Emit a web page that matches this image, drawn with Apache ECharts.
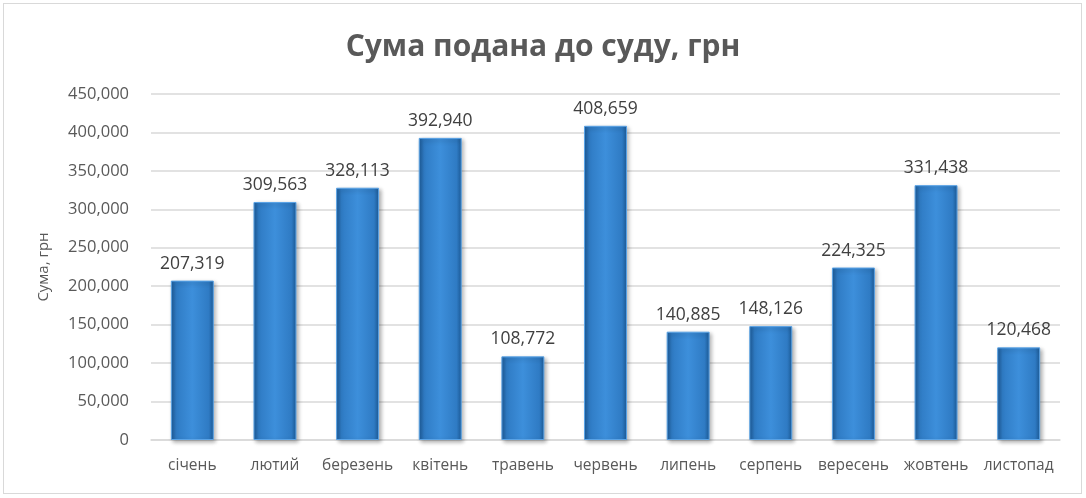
<!DOCTYPE html>
<html>
<head>
<meta charset="utf-8">
<script src="https://cdn.jsdelivr.net/npm/echarts@6/dist/echarts.min.js"></script>
<style>
  html, body { margin: 0; padding: 0; background: #fff; }
  #frame { position: absolute; left: 3px; top: 3px; width: 1077px; height: 489px; border: 1px solid #d9d9d9; }
  #chart { width: 1086px; height: 498px; }
</style>
</head>
<body>
<div id="frame"></div>
<div id="chart"></div>
<script>
var months = ['січень', 'лютий', 'березень', 'квітень', 'травень', 'червень', 'липень', 'серпень', 'вересень', 'жовтень', 'листопад'];
var sums = [207319, 309563, 328113, 392940, 108772, 408659, 140885, 148126, 224325, 331438, 120468];
var yTicks = [0, 50000, 100000, 150000, 200000, 250000, 300000, 350000, 400000, 450000];

var fmt = function (v) {
    return String(v).replace(/\B(?=(\d{3})+(?!\d))/g, ',');
};

var init_barChart = function () {
    var myChart = echarts.init(document.getElementById('chart'));
    var option = {
        animation: false,
        title: {
            text: 'Сума подана до суду, грн',
            left: 'center',
            top: 27,
            textStyle: { fontFamily: 'Open Sans', fontSize: 30, fontWeight: 'bold', color: '#595959' }
        },
        grid: { left: 151, right: 26, top: 94, bottom: 58 },
        xAxis: {
            type: 'category',
            data: months,
            axisTick: { show: false },
            axisLine: { lineStyle: { color: '#d9d9d9', width: 1.5 } },
            axisLabel: { interval: 0, fontFamily: 'Open Sans', fontSize: 15.5, color: '#595959', margin: 18 }
        },
        yAxis: {
            type: 'value',
            min: yTicks[0],
            max: yTicks[yTicks.length - 1],
            interval: yTicks[1] - yTicks[0],
            name: 'Сума, грн',
            nameLocation: 'middle',
            nameGap: 100,
            nameTextStyle: { fontFamily: 'Open Sans', fontSize: 15, color: '#595959' },
            axisLine: { show: false },
            axisTick: { show: false },
            splitLine: { lineStyle: { color: '#d9d9d9', width: 1.5 } },
            axisLabel: { fontFamily: 'Open Sans', fontSize: 16.5, color: '#595959', margin: 22, formatter: fmt }
        },
        series: [{
            type: 'bar',
            data: sums,
            barWidth: '52%',
            itemStyle: {
                color: new echarts.graphic.LinearGradient(0, 0, 1, 0, [
                    { offset: 0, color: '#1c5a96' },
                    { offset: 0.12, color: '#2f7bc4' },
                    { offset: 0.5, color: '#3d8fdb' },
                    { offset: 0.88, color: '#2f7bc4' },
                    { offset: 1, color: '#1c5a96' }
                ]),
                borderColor: '#5aa3e6',
                borderWidth: 1,
                shadowColor: 'rgba(0,0,0,0.3)',
                shadowBlur: 4,
                shadowOffsetX: 2,
                shadowOffsetY: 2
            },
            label: {
                show: true,
                position: 'top',
                distance: 8,
                fontFamily: 'Open Sans',
                fontSize: 17.5,
                color: '#404040',
                formatter: function (p) { return fmt(p.value); }
            }
        }]
    };
    myChart.setOption(option);
};

init_barChart();
</script>
</body>
</html>
